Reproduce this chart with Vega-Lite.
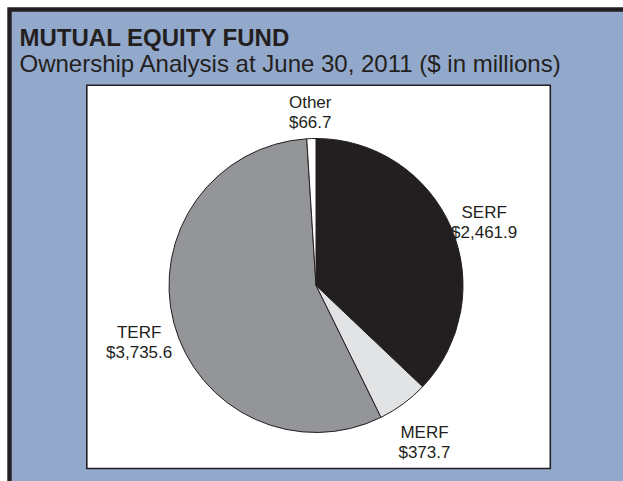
{
  "$schema": "https://vega.github.io/schema/vega-lite/v6.json",
  "width": 623,
  "height": 481,
  "autosize": {"type": "none"},
  "padding": 0,
  "background": "#93a9cb",
  "view": {"fill": "#93a9cb", "stroke": null},
  "title": {
    "text": "MUTUAL EQUITY FUND",
    "subtitle": "Ownership Analysis at June 30, 2011 ($ in millions)",
    "orient": "top",
    "anchor": "start",
    "frame": "group",
    "offset": -89,
    "dx": 19.5,
    "font": "Liberation Sans",
    "fontSize": 24,
    "fontWeight": "bold",
    "color": "#231f20",
    "subtitleFont": "Liberation Sans",
    "subtitleFontSize": 24,
    "subtitleFontWeight": "normal",
    "subtitleColor": "#231f20",
    "subtitlePadding": 2
  },
  "data": {
    "values": [
      {"fund": "SERF", "value": 2461.9, "seq": 1},
      {"fund": "MERF", "value": 373.7, "seq": 2},
      {"fund": "TERF", "value": 3735.6, "seq": 3},
      {"fund": "Other", "value": 66.7, "seq": 4}
    ]
  },
  "layer": [
    {
      "data": {"values": [{"panel": "outer border"}]},
      "mark": {"type": "rect", "x": 0, "y": 0, "x2": {"expr": "width"}, "y2": {"expr": "height"}, "fill": null, "stroke": "#231f20", "strokeWidth": 23.4, "strokeDash": [623, 1104, 481, 0]},
      "encoding": {}
    },
    {
      "data": {"values": [{"panel": "outer margin"}]},
      "mark": {"type": "rect", "x": 0, "y": 0, "x2": {"expr": "width"}, "y2": {"expr": "height"}, "fill": null, "stroke": "#ffffff", "strokeWidth": 14.6, "strokeDash": [623, 1104, 481, 0]},
      "encoding": {}
    },
    {
      "data": {"values": [{"panel": "chart area"}]},
      "mark": {"type": "rect", "x": 86.8, "x2": 550.3, "y": 85.2, "y2": 468.5, "fill": "#ffffff", "stroke": "#231f20", "strokeWidth": 1.6},
      "encoding": {}
    },
    {
      "mark": {"type": "arc", "outerRadius": 147, "x": 316, "y": 285.5, "stroke": "#231f20", "strokeWidth": 1},
      "encoding": {
        "theta": {"field": "value", "type": "quantitative", "stack": true},
        "order": {"field": "seq", "type": "quantitative"},
        "color": {
          "field": "fund",
          "type": "nominal",
          "scale": {"domain": ["SERF", "MERF", "TERF", "Other"], "range": ["#231f20", "#e2e3e5", "#939598", "#ffffff"]},
          "legend": null
        }
      }
    },
    {
      "transform": [{"calculate": "datum.fund + '\\n$' + format(datum.value, ',.1f')", "as": "label"}],
      "mark": {"type": "text", "radius": 183, "x": 316, "y": 285.5, "font": "Liberation Sans", "fontSize": 17, "lineHeight": 20, "lineBreak": "\n", "color": "#231f20", "align": "center", "baseline": "middle"},
      "encoding": {
        "theta": {"field": "value", "type": "quantitative", "stack": true},
        "order": {"field": "seq", "type": "quantitative"},
        "text": {"field": "label", "type": "nominal"}
      }
    }
  ]
}
